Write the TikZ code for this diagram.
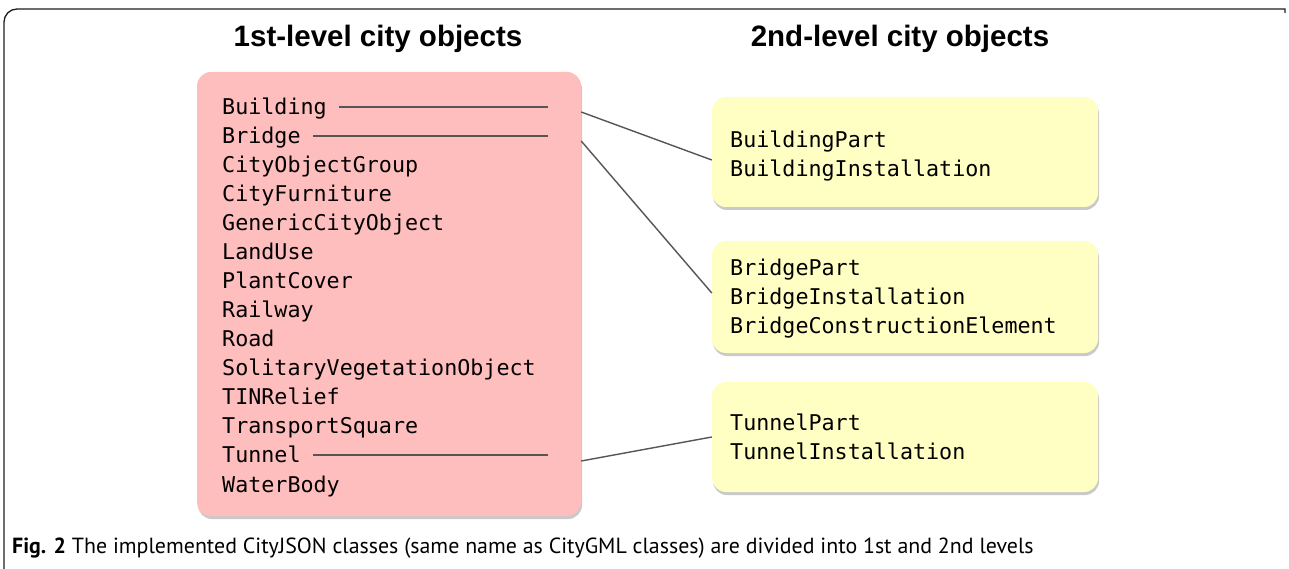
\documentclass[tikz,border=0pt]{standalone}
\usepackage{fontspec}
\setmainfont{Liberation Sans}
\newfontfamily\monof{DejaVu Sans Mono}
\newfontfamily\capf{PT Sans}
\usetikzlibrary{shadows,calc}
\definecolor{pinkfill}{RGB}{255,190,190}
\definecolor{yelfill}{RGB}{255,255,196}
\definecolor{conncol}{RGB}{85,85,85}
\definecolor{framecol}{RGB}{30,30,30}
\begin{document}
\begin{tikzpicture}[x=1pt,y=-1pt,
  panel/.style={rounded corners=14pt, draw=none, inner sep=0pt,
    drop shadow={shadow xshift=1pt, shadow yshift=-3pt, opacity=0.3, fill=black!70}},
  item/.style={anchor=west, inner sep=0pt, text height=15pt, text depth=0pt,
    font=\monof\fontsize{21.7}{24}\selectfont},
  inline/.style={draw=conncol, line width=1.3pt},
  conn/.style={draw=conncol, line width=1.4pt},
  title/.style={font=\fontsize{29.5}{34}\selectfont\bfseries}]
\useasboundingbox (0,0) rectangle (1289,569);
% frame
\draw[framecol, line width=1.3pt] (4,569) -- (4,22) arc[start angle=180, end angle=270, radius=13] -- (1285,9) -- (1285,13);
% titles
\node[title] (h1) at (378,39) {1st-level city objects};
\node[title] (h2) at (900,39) {2nd-level city objects};
% panels
\node[panel, fill=pinkfill, minimum width=384pt, minimum height=444pt] (lv1) at (389,294) {};
\node[panel, fill=yelfill, minimum width=386pt, minimum height=110pt] (y1) at (905,152) {};
\node[panel, fill=yelfill, minimum width=386pt, minimum height=112pt] (y2) at (905,297) {};
\node[panel, fill=yelfill, minimum width=386pt, minimum height=110pt] (y3) at (905,437) {};
% first-level items
\node[item] (bld) at (222,107) {Building};
\node[item] (brg) at (222,136) {Bridge};
\node[item] (cog) at (222,165) {CityObjectGroup};
\node[item] (cfu) at (222,194) {CityFurniture};
\node[item] (gco) at (222,223) {GenericCityObject};
\node[item] (lus) at (222,252) {LandUse};
\node[item] (pco) at (222,281) {PlantCover};
\node[item] (rwy) at (222,310) {Railway};
\node[item] (rod) at (222,339) {Road};
\node[item] (svo) at (222,368) {SolitaryVegetationObject};
\node[item] (tin) at (222,397) {TINRelief};
\node[item] (tsq) at (222,426) {TransportSquare};
\node[item] (tun) at (222,455) {Tunnel};
\node[item] (wat) at (222,485) {WaterBody};
% second-level items
\node[item] (bp) at (730,140) {BuildingPart};
\node[item] (bi) at (730,169) {BuildingInstallation};
\node[item] (rp) at (730,268) {BridgePart};
\node[item] (ri) at (730,297) {BridgeInstallation};
\node[item] (rc) at (730,326) {BridgeConstructionElement};
\node[item] (tp) at (730,423) {TunnelPart};
\node[item] (ti) at (730,452) {TunnelInstallation};
% inner lines
\coordinate (bldr) at (548,107);
\coordinate (brgr) at (548,136);
\coordinate (tunr) at (548,455);
\draw[inline] ([xshift=12pt]bld.east) -- (bldr);
\draw[inline] ([xshift=12pt]brg.east) -- (brgr);
\draw[inline] ([xshift=12pt]tun.east) -- (tunr);
% connectors
\draw[conn] ($(lv1.east |- bld.east)+(0,5)$) -- ($(y1.west)+(0,8)$);
\draw[conn] ($(lv1.east |- brg.east)+(0,5)$) -- ($(y2.west)+(0,-4)$);
\draw[conn] ($(lv1.east |- tun.east)+(0,6)$) -- (y3.west);
% caption
\node[anchor=base west, inner sep=0pt, font=\capf\fontsize{21.9}{24}\selectfont] (cap) at (12,553)
  {\textbf{Fig. 2} The implemented CityJSON classes (same name as CityGML classes) are divided into 1st and 2nd levels};
\end{tikzpicture}
\end{document}
